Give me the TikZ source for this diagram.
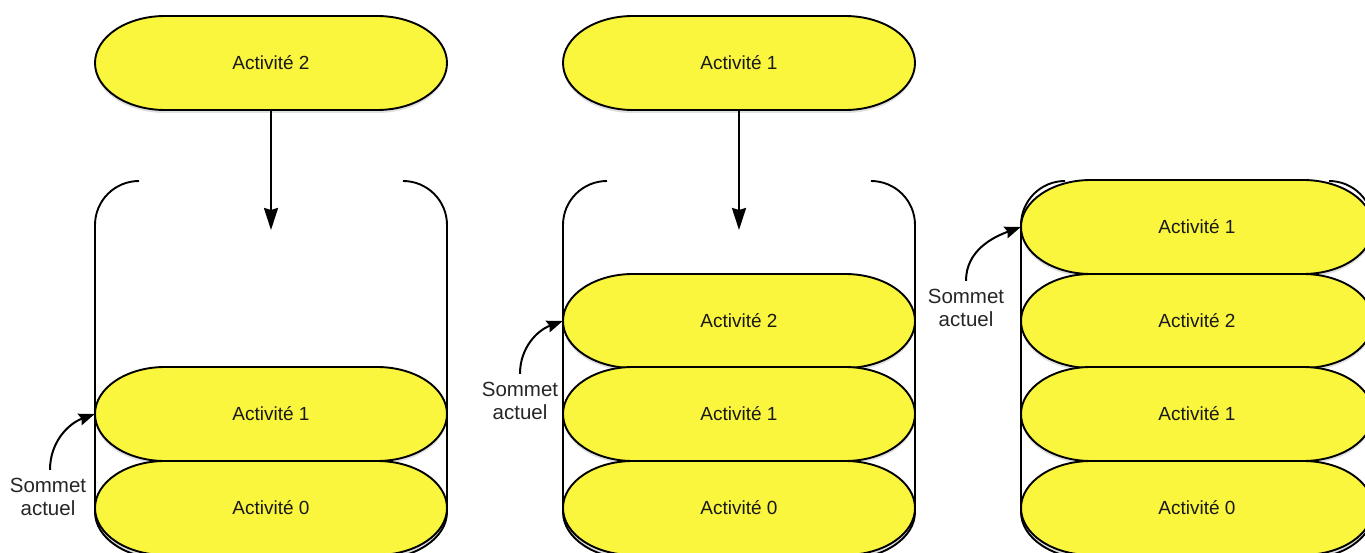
\documentclass[tikz,border=0pt]{standalone}
\usepackage{fontspec}
\setmainfont{Liberation Sans}
\usetikzlibrary{arrows.meta}
\definecolor{pillyellow}{RGB}{250,246,62}
\newcommand\pillnode[4]{%
  \fill[pillshadow] ({#2},{#3+3}) ++(-106,-47) -- ++(212,0)
    arc[start angle=-90,end angle=90,x radius=70,y radius=47] -- ++(-212,0)
    arc[start angle=90,end angle=270,x radius=70,y radius=47] -- cycle;
  \filldraw[pillbody] (#2,#3) ++(-106,-47) -- ++(212,0)
    arc[start angle=-90,end angle=90,x radius=70,y radius=47] -- ++(-212,0)
    arc[start angle=90,end angle=270,x radius=70,y radius=47] -- cycle;
  \node[pilltext] (#1) at (#2,#3) {#4};}
\newcommand\stackbox[1]{%
  \draw[cont] ({#1+44},181) arc[start angle=-90,end angle=-180,radius=44]
    -- ++(0,287) arc[start angle=180,end angle=90,x radius=70,y radius=47]
    -- ++(212,0) arc[start angle=90,end angle=0,x radius=70,y radius=47]
    -- ++(0,-287) arc[start angle=0,end angle=-90,radius=44];}
\begin{document}
\begin{tikzpicture}[x=1pt,y=-1pt,
  pillbody/.style={draw=black, line width=1.9pt, fill=pillyellow},
  pillshadow/.style={fill=black, opacity=0.12},
  pilltext/.style={minimum width=352pt, minimum height=94pt, inner sep=0pt,
    font=\fontsize{19}{21}\selectfont, text=black!90},
  lbl/.style={align=center, inner sep=0pt, font=\fontsize{20.5}{23.5}\selectfont, text=black!85},
  cont/.style={draw=black, line width=1.9pt},
  push/.style={-{Stealth[length=22pt,width=14pt,inset=2pt]}, line width=2.2pt},
  cur/.style={-{Stealth[length=16pt,width=12pt,inset=2pt]}, line width=2pt}]
\useasboundingbox (0,0) rectangle (1365,553);
\clip (0,0) rectangle (1365,553);

% containers
\stackbox{95}
\stackbox{563}
\stackbox{1021}

% top pills
\pillnode{t2}{271}{63}{Activité 2}
\pillnode{t1}{739}{63}{Activité 1}

% stack 1
\pillnode{a1}{271}{414}{Activité 1}
\pillnode{a0}{271}{508}{Activité 0}

% stack 2
\pillnode{b2}{739}{321}{Activité 2}
\pillnode{b1}{739}{414}{Activité 1}
\pillnode{b0}{739}{508}{Activité 0}

% stack 3
\pillnode{c3}{1197}{227}{Activité 1}
\pillnode{c2}{1197}{321}{Activité 2}
\pillnode{c1}{1197}{414}{Activité 1}
\pillnode{c0}{1197}{508}{Activité 0}

% push arrows
\coordinate (p1) at (271,230);
\coordinate (p2) at (739,230);
\draw[push] (t2.south) -- (p1);
\draw[push] (t1.south) -- (p2);

% labels
\node[lbl] (s1) at (48,497) {Sommet\\actuel};
\node[lbl] (s2) at (520,401) {Sommet\\actuel};
\node[lbl] (s3) at (966,308) {Sommet\\actuel};

\draw[cur] ([xshift=2pt,yshift=8pt]s1.north) to[out=90,in=200] (a1.west);
\draw[cur] ([yshift=8pt]s2.north) to[out=90,in=200] (b2.west);
\draw[cur] ([yshift=8pt]s3.north) to[out=90,in=200] (c3.west);
\end{tikzpicture}
\end{document}
